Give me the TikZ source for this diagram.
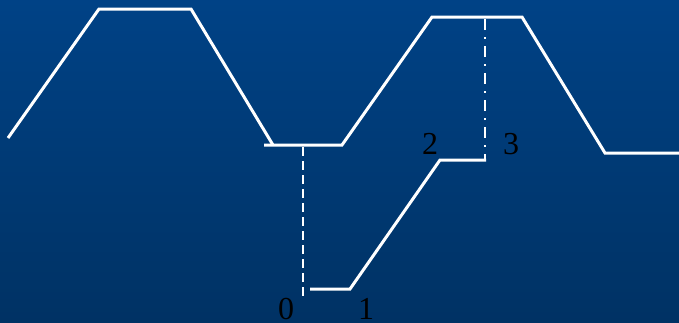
\documentclass[tikz,border=0pt]{standalone}
\usepackage{fontspec}
\setmainfont{Liberation Serif}
\definecolor{bgtop}{RGB}{0,66,134}
\definecolor{bgbot}{RGB}{0,50,100}
\begin{document}
\begin{tikzpicture}[x=1pt,y=-1pt,
  curve/.style={white,line width=3pt,line join=miter},
  vdash/.style={white,line width=2.2pt,dash pattern=on 9pt off 5pt},
  vdashdot/.style={white,line width=2.2pt,dash pattern=on 11pt off 7pt on 2pt off 7pt},
  lab/.style={font=\fontsize{32}{32}\selectfont,text=black,anchor=base,inner sep=0pt}]
\shade[top color=bgtop,bottom color=bgbot] (0,0) rectangle (679,322);
\useasboundingbox (0,0) rectangle (679,322);
% upper curve
\coordinate (u1) at (8,138);
\coordinate (u2) at (99,9);
\coordinate (u3) at (191,9);
\coordinate (u4) at (273,145);
\coordinate (f1) at (264,145);
\coordinate (f2) at (342,145);
\coordinate (u5) at (432,17);
\coordinate (u6) at (522,17);
\coordinate (u7) at (605,153);
\coordinate (u8) at (679,153);
\draw[curve] (u1) -- (u2) -- (u3) -- (u4);
\draw[curve] (f1) -- (f2) -- (u5) -- (u6) -- (u7) -- (u8);
% lower curve
\coordinate (l1) at (310,289);
\coordinate (l2) at (350,289);
\coordinate (l3) at (440,160);
\coordinate (l4) at (486,160);
\draw[curve] (l1) -- (l2) -- (l3) -- (l4);
% vertical guides
\coordinate (d1) at (303,147);
\coordinate (d2) at (303,297);
\draw[vdash] (d1) -- (d2);
\coordinate (e1) at (485,19);
\coordinate (e2) at (485,160);
\draw[vdashdot] (e1) -- (e2);
% labels
\node[lab] (n0) at (286,319) {0};
\node[lab] (n1) at (366,319) {1};
\node[lab] (n2) at (430,154) {2};
\node[lab] (n3) at (511,154) {3};
\end{tikzpicture}
\end{document}
